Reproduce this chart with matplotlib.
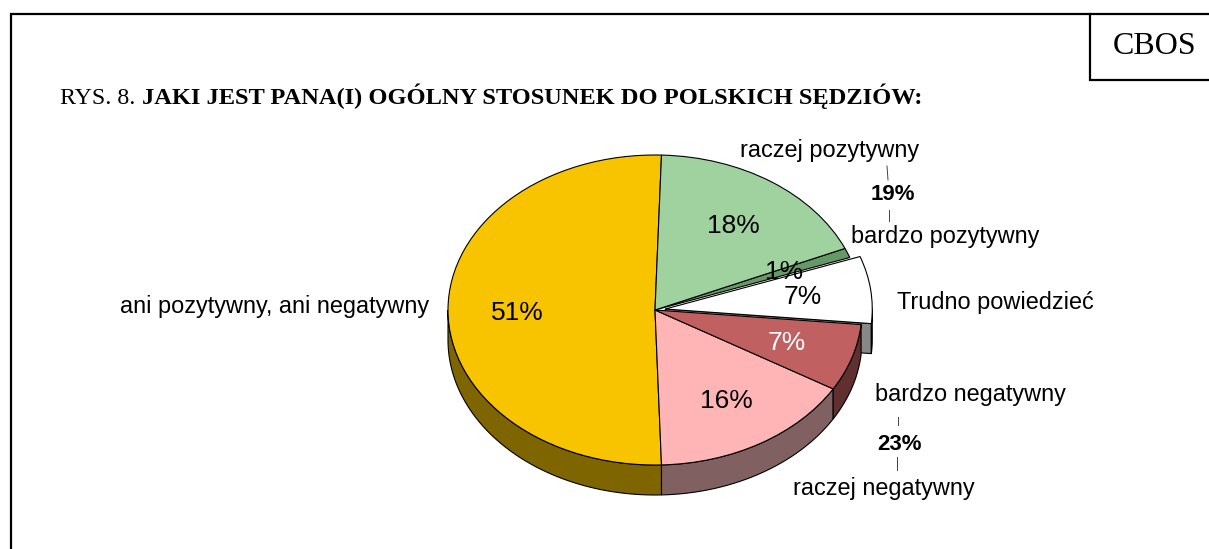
import numpy as np
import matplotlib
matplotlib.use("Agg")
import matplotlib.pyplot as plt

W, H = 1209, 549

# data
categorias = ["ani pozytywny, ani negatywny", "raczej negatywny", "bardzo negatywny",
              "Trudno powiedzieć", "bardzo pozytywny", "raczej pozytywny"]
valores = [51, 16, 7, 7, 1, 18]
colores = ["#F8C400", "#FFB5B5", "#C06060", "#FFFFFF", "#669966", "#A0D2A0"]
colores_lado = ["#7F6500", "#806060", "#603030", "#888888", "#4D734D", "#78A078"]
color_pct = ["black", "black", "white", "black", "black", "black"]
explode = [0, 0, 0, 0.05, 0, 0]
inicio = 88.2

# ellipse of the pie in pixels
cx, cy, rx, ry, prof = 655, 310, 207, 155, 30

fig = plt.figure(figsize=(W / 100, H / 100), dpi=100, facecolor="white")
plt.rcParams["font.family"] = ["Liberation Sans", "DejaVu Sans"]

ax = fig.add_axes([(cx - 1.25 * rx) / W, (H - cy - 1.25 * ry) / H, 2.5 * rx / W, 2.5 * ry / H])
ax.pie(valores, colors=colores, startangle=inicio, counterclock=True, explode=explode,
       wedgeprops={"edgecolor": "black", "linewidth": 0.8, "zorder": 5})
ax.set_aspect("auto")
ax.set_xlim(-1.25, 1.25)
ax.set_ylim(-1.25, 1.25)

# side wall of the visible slices
d = prof / ry
ang = inicio
for v, c, e in zip(valores, colores_lado, explode):
    a1 = ang
    a2 = ang + v * 3.6
    ang = a2
    mid = np.radians((a1 + a2) / 2)
    ox, oy = e * np.cos(mid), e * np.sin(mid)
    # the exploded slice also shows its cut face
    if e:
        px = np.cos(np.radians(a1)) + ox
        py = np.sin(np.radians(a1)) + oy
        ax.fill([ox, px, px, ox], [oy, py, py - d, oy - d], facecolor=c, edgecolor="black",
                linewidth=0.8, zorder=2)
    # only the front half (180-360) can be seen
    b1, b2 = max(a1, 180), min(a2, 360)
    if b2 <= b1:
        continue
    t = np.radians(np.linspace(b1, b2, 80))
    x = np.cos(t) + ox
    y = np.sin(t) + oy
    ax.fill(np.r_[x, x[::-1]], np.r_[y, y[::-1] - d], facecolor=c, edgecolor="black",
            linewidth=0.8, zorder=2 if e else 3)

# everything else in pixel coordinates
capa = fig.add_axes([0, 0, 1, 1], facecolor="none")
capa.set_xlim(0, W)
capa.set_ylim(H, 0)
capa.axis("off")

capa.plot([11, 11, W], [H, 14, 14], color="black", lw=1.6, solid_joinstyle="miter")
capa.plot([1090, 1090, W], [14, 80, 80], color="black", lw=1.6, solid_joinstyle="miter")

serif = ["Liberation Serif", "DejaVu Serif"]
capa.text(1155, 46, "CBOS", family=serif, fontsize=23, ha="center", va="center")
capa.text(60, 104, "RYS. 8. ", family=serif, fontsize=17.2, ha="left", va="baseline")
capa.text(142, 104, "JAKI JEST PANA(I) OGÓLNY STOSUNEK DO POLSKICH SĘDZIÓW:", family=serif,
          fontsize=17.55, fontweight="bold", ha="left", va="baseline")

# percentages
pos_pct = [(517, 313), (726, 401), (787, 343), (803, 297), (784, 272), (733, 226)]
for v, (x, y), c in zip(valores, pos_pct, color_pct):
    capa.text(x, y, f"{v}%", fontsize=19, color=c, ha="center", va="center")

# category labels
pos_cat = [(275, 307), (884, 489), (970, 394), (995, 303), (945, 237), (830, 150)]
for t, (x, y) in zip(categorias, pos_cat):
    capa.text(x, y, t, fontsize=16.9, ha="center", va="center")

# grouped totals
capa.text(893, 195, "19%", fontsize=16, fontweight="bold", ha="center", va="center")
capa.text(899, 444, "23%", fontsize=16, fontweight="bold", ha="center", va="center")
for xs, ys in [([887, 888], [166, 180]), ([889, 889], [210, 221]),
               ([898, 898], [417, 425]), ([897, 897], [457, 470])]:
    capa.plot(xs, ys, color="#444444", lw=0.7)

fig.savefig("out.png", dpi=100)
